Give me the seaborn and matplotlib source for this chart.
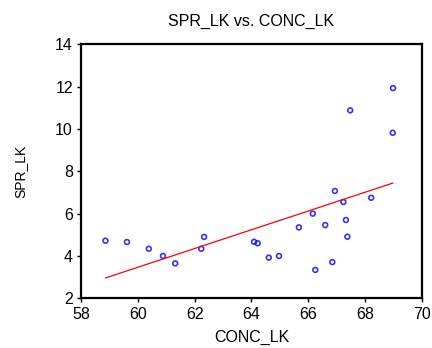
import numpy as np
import pandas as pd
import matplotlib
matplotlib.use("Agg")
import matplotlib.pyplot as plt
import seaborn as sns

# dados (CONC_LK x SPR_LK)
conc_lk = [58.85, 59.61, 60.38, 60.88, 61.31, 62.23, 62.33, 64.09, 64.22,
           64.61, 64.97, 65.67, 66.16, 66.25, 66.60, 66.85, 66.94, 67.24,
           67.33, 67.38, 67.48, 68.22, 68.99, 68.98]
spr_lk = [4.72, 4.66, 4.34, 4.00, 3.65, 4.34, 4.90, 4.67, 4.60,
          3.92, 4.00, 5.35, 6.00, 3.34, 5.46, 3.71, 7.07, 6.55,
          5.70, 4.91, 10.88, 6.75, 11.93, 9.82]
x_ticks = [58, 60, 62, 64, 66, 68, 70]
y_ticks = [2, 4, 6, 8, 10, 12, 14]

df = pd.DataFrame({"CONC_LK": conc_lk, "SPR_LK": spr_lk})

sns.set_style("ticks")
plt.rcParams["font.family"] = ["Liberation Sans", "DejaVu Sans"]
plt.rcParams["text.color"] = "black"
plt.rcParams["axes.labelcolor"] = "black"

fig = plt.figure(figsize=(4.32, 3.48), dpi=100)
ax = fig.add_axes([0.1882, 0.1428, 0.7879, 0.7299])

sns.regplot(data=df, x="CONC_LK", y="SPR_LK", ax=ax, ci=None, truncate=True,
            scatter_kws=dict(s=12, facecolors="none", edgecolors="#0000ff", linewidths=1.2),
            line_kws=dict(color="#ff0000", lw=0.9))

ax.set_xlim(58, 70)
ax.set_ylim(2, 14)
ax.set_xticks(x_ticks)
ax.set_yticks(y_ticks)
ax.tick_params(direction="out", length=3, width=1, labelsize=11.5, pad=3,
               colors="black", labelcolor="black")
for sp in ax.spines.values():
    sp.set_visible(True)
    sp.set_linewidth(1.6)
    sp.set_color("black")

ax.set_title("SPR_LK vs. CONC_LK", fontsize=11.5, pad=13, color="black")
ax.set_xlabel("CONC_LK", fontsize=11.5, labelpad=6)
ax.set_ylabel("SPR_LK", fontsize=10, labelpad=20)

fig.savefig("out.png", dpi=100)
